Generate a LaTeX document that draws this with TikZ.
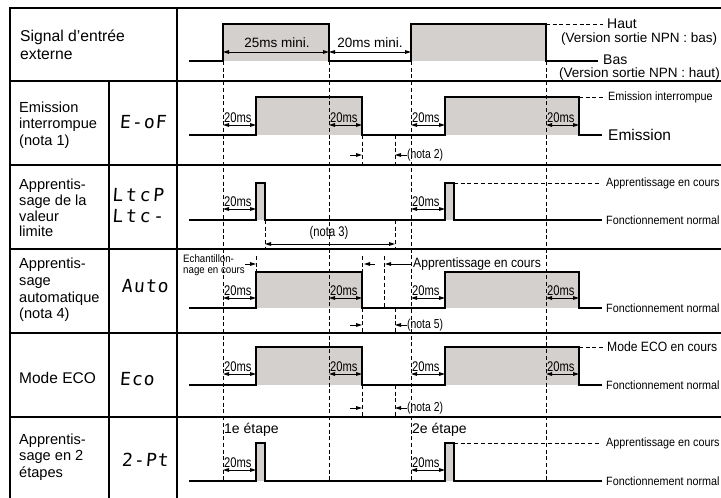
\documentclass[tikz,border=0pt]{standalone}
\usepackage{fontspec}
\setmainfont{Liberation Sans}
\newfontfamily\nar[FakeStretch=0.8]{Liberation Sans}
\newfontfamily\narb[FakeStretch=0.9]{Liberation Sans}
\newfontfamily\segf[FakeSlant=0.08,LetterSpace=6]{DejaVu Sans Mono}
\newfontfamily\segw[FakeSlant=0.08,LetterSpace=15]{DejaVu Sans Mono}
\usetikzlibrary{arrows.meta}
\definecolor{sg}{RGB}{212,208,206}
\begin{document}
\begin{tikzpicture}[x=1pt,y=-1pt,
  sig/.style={line width=1.4pt},
  vdash/.style={line width=1pt, dash pattern=on 4pt off 2.7pt},
  dimarr/.style={line width=0.9pt, {Triangle[length=6pt,width=3.6pt]}-{Triangle[length=6pt,width=3.6pt]}},
  rarr/.style={line width=0.9pt, -{Triangle[length=6pt,width=3.6pt]}},
  lbl/.style={inner sep=0pt, anchor=west, align=left, font=\fontsize{14.6}{16.6}\selectfont},
  ms/.style={inner sep=0pt, anchor=base west, font=\nar\fontsize{14}{16}\selectfont},
  nota/.style={inner sep=0pt, anchor=west, font=\nar\fontsize{13}{15}\selectfont},
  side/.style={inner sep=0pt, anchor=west, font=\narb\fontsize{12}{14}\selectfont},
  seg/.style={inner sep=0pt, align=left, font=\segf\fontsize{18}{21}\selectfont},
  grid/.style={line width=1.4pt},
  thick grid/.style={line width=2.2pt}]
\useasboundingbox (0,0) rectangle (721,498);

% ---------- grey fills ----------
\fill[sg] (223,24) rectangle (329,61);
\fill[sg] (411,24) rectangle (546,61);
\foreach \hi/\lo in {97/135,272/308,347/385}{
  \fill[sg] (256,\hi) rectangle (362,\lo);
  \fill[sg] (445,\hi) rectangle (579,\lo);
}
\foreach \hi/\lo in {183/220,443/481}{
  \fill[sg] (256,\hi) rectangle (265,\lo);
  \fill[sg] (445,\hi) rectangle (454,\lo);
}

% ---------- table ----------
\draw[thick grid] (10,498) -- (10,8) -- (721,8);
\draw[thick grid] (177,8) -- (177,498);
\draw[line width=1.2pt] (109,81) -- (109,498);
\draw[line width=1.8pt] (10,81) -- (721,81);
\foreach \y in {165,249,333,417} \draw[grid] (10,\y) -- (721,\y);

% ---------- main dashed verticals ----------
\foreach \x in {223,329,411,546} \draw[vdash] (\x,61) -- (\x,481);

% ---------- signals ----------
\draw[sig] (189,61) -- (223,61) -- (223,24) -- (329,24) -- (329,61) -- (411,61) -- (411,24) -- (546,24) -- (546,61) -- (598,61);
\foreach \hi/\lo in {97/135,272/308,347/385}{
  \draw[sig] (189,\lo) -- (256,\lo) -- (256,\hi) -- (362,\hi) -- (362,\lo) -- (445,\lo) -- (445,\hi) -- (579,\hi) -- (579,\lo) -- (602,\lo);
}
\foreach \hi/\lo in {183/220,443/481}{
  \draw[sig] (189,\lo) -- (256,\lo) -- (256,\hi) -- (265,\hi) -- (265,\lo) -- (445,\lo) -- (445,\hi) -- (454,\hi) -- (454,\lo) -- (602,\lo);
  \draw[vdash] (454,\hi) -- (600,\hi);
}
\draw[vdash] (546,24) -- (603,24);
\draw[vdash] (579,97) -- (603,97);
\draw[vdash] (579,347) -- (603,347);

% ---------- header dimensions ----------
\draw[dimarr] (223,52) -- (329,52);
\draw[dimarr] (329,52) -- (411,52);
\node[inner sep=0pt, anchor=base, font=\fontsize{13.5}{16}\selectfont] (t25) at (277,47) {25ms mini.};
\node[inner sep=0pt, anchor=base, font=\fontsize{13.5}{16}\selectfont] (t20) at (370,47) {20ms mini.};

% ---------- 20ms arrows ----------
\foreach \y in {125,298,374}{
  \foreach \a/\b in {223/256,329/362,411/445,546/579}{
    \draw[dimarr] (\a,\y) -- (\b,\y);
    \node[ms] at ({\a+1},{\y-3}) {20ms};
  }
}
\foreach \y in {209,470}{
  \foreach \a/\b in {223/256,411/445}{
    \draw[dimarr] (\a,\y) -- (\b,\y);
    \node[ms] at ({\a+1},{\y-3}) {20ms};
  }
}

% ---------- notes row 1 ----------
\draw[vdash] (362,135) -- (362,165);
\draw[vdash] (395,135) -- (395,165);
\draw[rarr] (350,155) -- (362,155);
\draw[rarr] (407,155) -- (395,155);
\node[nota] (n2a) at (407,155) {(nota 2)};

% ---------- notes row 2 ----------
\draw[vdash] (265,220) -- (265,247);
\draw[vdash] (395,220) -- (395,247);
\draw[dimarr] (265,244) -- (395,244);
\node[inner sep=0pt, font=\nar\fontsize{14}{16}\selectfont] (n3) at (329,233) {(nota 3)};

% ---------- notes row 3 ----------
\node[inner sep=0pt, anchor=west, align=left, font=\narb\fontsize{10.8}{10.8}\selectfont] (ech) at (183,265) {Echantillon-\\nage en cours};
\draw[rarr] (245,264) -- (256,264);
\draw[vdash] (256,256) -- (256,272);
\draw[vdash] (362,256) -- (362,272);
\draw[rarr] (375,264) -- (364,264);
\draw[vdash] (384,256) -- (384,307);
\draw[rarr] (411,264) -- (385,264);
\node[inner sep=0pt, anchor=west, font=\narb\fontsize{13.5}{16}\selectfont] (appc) at (413,264) {Apprentissage en cours};
\draw[vdash] (362,308) -- (362,333);
\draw[vdash] (395,308) -- (395,333);
\draw[rarr] (350,325) -- (362,325);
\draw[rarr] (407,325) -- (395,325);
\node[nota] (n5) at (407,325) {(nota 5)};

% ---------- notes row 4 ----------
\draw[vdash] (362,385) -- (362,417);
\draw[vdash] (395,385) -- (395,417);
\draw[rarr] (350,408) -- (362,408);
\draw[rarr] (407,408) -- (395,408);
\node[nota] (n2b) at (407,408) {(nota 2)};

% ---------- row 5 steps ----------
\node[inner sep=0pt, anchor=west, font=\fontsize{14}{16}\selectfont] (e1) at (224,430) {1e étape};
\node[inner sep=0pt, anchor=west, font=\fontsize{14}{16}\selectfont] (e2) at (412,430) {2e étape};

% ---------- right labels ----------
\node[inner sep=0pt, anchor=west, font=\fontsize{14}{16}\selectfont] (haut) at (607,24) {Haut};
\node[inner sep=0pt, anchor=west, font=\fontsize{13.5}{16}\selectfont] (vb) at (561,39) {(Version sortie NPN : bas)};
\node[inner sep=0pt, anchor=west, font=\fontsize{14}{16}\selectfont] (bas) at (603,60) {Bas};
\node[inner sep=0pt, anchor=west, font=\fontsize{13.5}{16}\selectfont] (vh) at (559,74) {(Version sortie NPN : haut)};
\node[side] (ei) at (608,97) {Emission interrompue};
\node[inner sep=0pt, anchor=west, font=\fontsize{15.5}{18}\selectfont] (em) at (608,135) {Emission};
\node[side] (ac1) at (606,183) {Apprentissage en cours};
\node[side] (fn1) at (606,220) {Fonctionnement normal};
\node[side] (fn2) at (606,308) {Fonctionnement normal};
\node[inner sep=0pt, anchor=west, font=\narb\fontsize{13.5}{16}\selectfont] (eco) at (607,347) {Mode ECO en cours};
\node[side] (fn3) at (606,385) {Fonctionnement normal};
\node[side] (ac2) at (606,443) {Apprentissage en cours};
\node[side] (fn4) at (606,481) {Fonctionnement normal};

% ---------- left labels ----------
\node[lbl, font=\fontsize{15.7}{18.3}\selectfont] (l0) at (20,45) {Signal d’entrée\\externe};
\node[lbl] (l1) at (19,125) {Emission\\interrompue\\(nota 1)};
\node[lbl, font=\fontsize{14.6}{15.6}\selectfont] (l2) at (19,208) {Apprentis-\\sage de la\\valeur\\limite};
\node[lbl] (l3) at (19,290) {Apprentis-\\sage\\automatique\\(nota 4)};
\node[lbl, font=\fontsize{15.5}{17}\selectfont] (l4) at (19,378) {Mode ECO};
\node[lbl] (l5) at (19,457) {Apprentis-\\sage en 2\\étapes};

% ---------- display codes ----------
\node[seg] (d1) at (143,122) {E-oF};
\node[seg, anchor=west, font=\segw\fontsize{18}{21}\selectfont] (d2) at (112,206) {LtcP\\Ltc-};
\node[seg] (d3) at (145,286) {Auto};
\node[seg] (d4) at (137,379) {Eco};
\node[seg] (d5) at (145,460) {2-Pt};
\end{tikzpicture}
\end{document}
